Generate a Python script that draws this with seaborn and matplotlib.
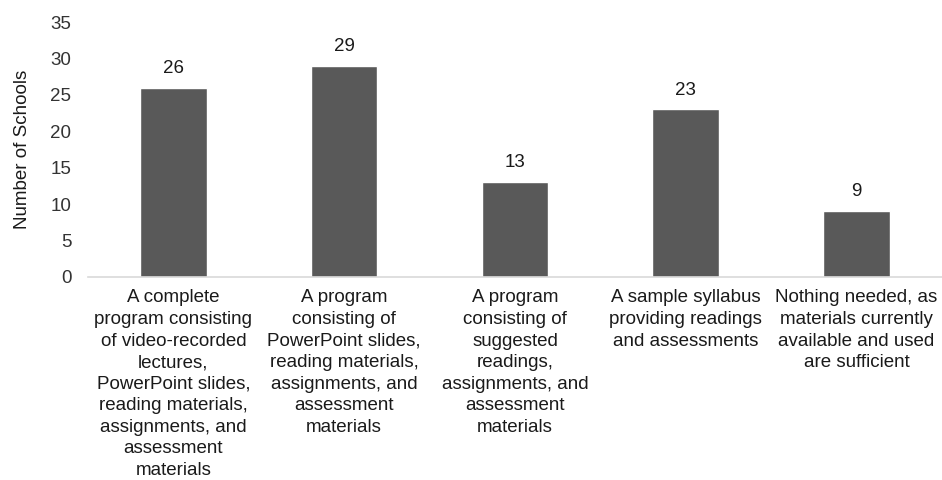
import matplotlib
matplotlib.use("Agg")
import matplotlib.pyplot as plt
import seaborn as sns
import pandas as pd

categories = [
    "A complete\nprogram consisting\nof video-recorded\nlectures,\nPowerPoint slides,\nreading materials,\nassignments, and\nassessment\nmaterials",
    "A program\nconsisting of\nPowerPoint slides,\nreading materials,\nassignments, and\nassessment\nmaterials",
    "A program\nconsisting of\nsuggested\nreadings,\nassignments, and\nassessment\nmaterials",
    "A sample syllabus\nproviding readings\nand assessments",
    "Nothing needed, as\nmaterials currently\navailable and used\nare sufficient",
]
schools = [26, 29, 13, 23, 9]

sns.set_theme(style="white")
plt.rcParams['font.family'] = ['Liberation Sans', 'DejaVu Sans']

df = pd.DataFrame({"cat": categories, "n": schools})

fig = plt.figure(figsize=(9.42, 4.8), dpi=100)
ax = fig.add_axes([0.0934, 0.423, 0.9066, 0.531])
sns.barplot(data=df, x="cat", y="n", color="#595959", width=0.39, ax=ax,
            saturation=1)

for i, v in enumerate(schools):
    ax.text(i, v + 1.5, str(v), ha="center", va="bottom", fontsize=13.5, color="#1a1a1a")

ax.set_ylim(0, 35)
ax.set_yticks(range(0, 36, 5))
ax.set_xlim(-0.5, 4.5)
ax.set_xlabel("")
ax.set_ylabel("Number of Schools", fontsize=13.5, color="#1a1a1a", labelpad=14)
ax.tick_params(axis="y", labelsize=13.5, colors="#333333", length=0, pad=12)
ax.tick_params(axis="x", labelsize=13.5, colors="#1a1a1a", length=0, pad=9)
for t in ax.get_xticklabels():
    t.set_linespacing(1.35)
for s in ["top", "right", "left"]:
    ax.spines[s].set_visible(False)
ax.spines["bottom"].set_color("#d9d9d9")
ax.spines["bottom"].set_linewidth(1.2)

fig.savefig("out.png", dpi=100)
